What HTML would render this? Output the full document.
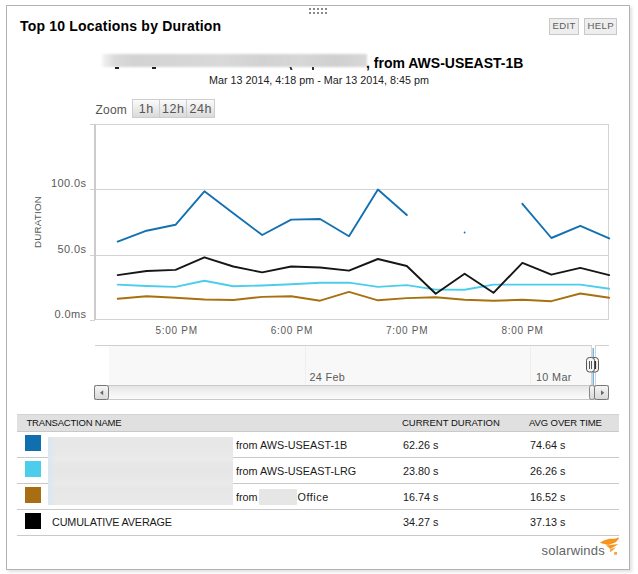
<!DOCTYPE html>
<html><head><meta charset="utf-8">
<style>
html,body{margin:0;padding:0;background:#fff;width:638px;height:574px;overflow:hidden;position:relative;font-family:"Liberation Sans",sans-serif;}
.a{position:absolute;white-space:nowrap;line-height:1;}
#panel{position:absolute;left:6px;top:5px;width:622px;height:563px;border:1px solid #b3b3b3;box-shadow:2px 2px 3px rgba(0,0,0,0.12);background:#fff;}
.dot{position:absolute;width:2px;height:2px;background:#8a8a8a;}
.btn{position:absolute;top:18px;height:15px;border:1px solid #c8c8c8;background:#eeeeee;color:#5e5e5e;font-size:9.6px;line-height:13.2px;letter-spacing:0.35px;text-indent:0.35px;text-align:center;}
.zb{position:absolute;top:99px;height:17px;background:linear-gradient(#fbfbfb,#dadada);border:1px solid #cdcdcd;color:#555;font-size:12.5px;line-height:19px;letter-spacing:0.5px;text-indent:0.5px;text-align:center;}
.hdr{font-size:9.5px;color:#111;}
.cell{font-size:10.8px;color:#1a1a1a;}
.sw{position:absolute;left:25px;width:16px;height:16px;}
.sep{position:absolute;left:17px;width:602px;height:1px;background:#c9c9c9;}
</style></head><body>
<div id="panel"></div>
<!-- drag dots -->
<div class="dot" style="left:309px;top:8px"></div><div class="dot" style="left:313px;top:8px"></div><div class="dot" style="left:317px;top:8px"></div><div class="dot" style="left:321px;top:8px"></div><div class="dot" style="left:325px;top:8px"></div>
<div class="dot" style="left:309px;top:12px"></div><div class="dot" style="left:313px;top:12px"></div><div class="dot" style="left:317px;top:12px"></div><div class="dot" style="left:321px;top:12px"></div><div class="dot" style="left:325px;top:12px"></div>

<div class="a" style="left:20px;top:19px;font-size:14px;font-weight:bold;color:#000;letter-spacing:0.2px">Top 10 Locations by Duration</div>
<div class="btn" style="left:549px;width:28px">EDIT</div>
<div class="btn" style="left:584px;width:31px">HELP</div>

<!-- chart title blurred -->
<div style="position:absolute;left:102px;top:54px;width:265px;height:13px;background:linear-gradient(90deg,#f4f4f4,#dadada 5%,#d3d3d3 12%,#d6d6d6 30%,#d9d9d9 45%,#d2d2d2 60%,#d7d7d7 75%,#cfcfcf 88%,#d8d8d8 100%);filter:blur(1px)"></div>
<div style="position:absolute;left:115px;top:67px;width:4px;height:2px;background:#222"></div><div style="position:absolute;left:152px;top:67px;width:4px;height:2px;background:#222"></div><div style="position:absolute;left:290px;top:67px;width:2px;height:3px;background:#333;transform:skewX(20deg)"></div><div style="position:absolute;left:312px;top:67px;width:2px;height:3px;background:#333"></div>
<div class="a" style="left:366px;top:56px;font-size:14px;font-weight:bold;color:#000">, from AWS-USEAST-1B</div>
<div class="a" style="left:209px;top:75px;font-size:10.75px;color:#222">Mar 13 2014, 4:18 pm - Mar 13 2014, 8:45 pm</div>

<!-- zoom -->
<div class="a" style="left:95.5px;top:104px;font-size:12px;color:#555;letter-spacing:0.2px">Zoom</div>
<div class="zb" style="left:132px;width:26px">1h</div>
<div class="zb" style="left:159px;width:26px">12h</div>
<div class="zb" style="left:186px;width:27px">24h</div>

<svg style="position:absolute;left:0;top:0" width="638" height="574">
<g shape-rendering="crispEdges">
<rect x="90" y="124" width="519" height="1" fill="#d3d3d3"/>
<rect x="608" y="124" width="1" height="196" fill="#d3d3d3"/>
<rect x="90" y="189" width="519" height="1" fill="#d3d3d3"/>
<rect x="90" y="255" width="519" height="1" fill="#d3d3d3"/>
<rect x="95" y="319" width="514" height="1" fill="#d3d3d3"/>
<rect x="90" y="320" width="5" height="1" fill="#d3d3d3"/>
<rect x="94" y="124" width="2" height="196" fill="#cccccc"/>
</g>
<path d="M117.7 241.6 L146.6 230.7 L175.5 224.8 L204.4 191.3 L233.3 213.3 L262.2 235.0 L291.2 219.6 L320.1 219.0 L349.0 236.2 L377.9 189.5 L406.8 215.0 M522.4 203.8 L551.4 238.0 L580.3 225.8 L609.2 238.4" fill="none" stroke="#1471b1" stroke-width="1.9" stroke-linejoin="round" stroke-linecap="round"/>
<circle cx="464.6" cy="232.5" r="0.9" fill="#1471b1"/>
<path d="M117.7 298.7 L146.6 296.2 L175.5 297.8 L204.4 299.5 L233.3 300.0 L262.2 296.9 L291.2 296.2 L320.1 300.7 L349.0 291.9 L377.9 300.3 L406.8 298.1 L435.7 297.2 L464.6 299.7 L493.5 300.7 L522.4 299.8 L551.4 301.2 L580.3 293.5 L609.2 297.8" fill="none" stroke="#a8700f" stroke-width="1.9" stroke-linejoin="round" stroke-linecap="round"/>
<path d="M117.7 284.6 L146.6 286.0 L175.5 286.9 L204.4 280.8 L233.3 286.2 L262.2 285.5 L291.2 284.2 L320.1 282.8 L349.0 282.6 L377.9 286.9 L406.8 285.1 L435.7 289.6 L464.6 289.8 L493.5 284.6 L522.4 284.6 L551.4 284.6 L580.3 284.6 L609.2 288.7" fill="none" stroke="#4ccdec" stroke-width="1.9" stroke-linejoin="round" stroke-linecap="round"/>
<path d="M117.7 275.1 L146.6 271.0 L175.5 269.9 L204.4 257.3 L233.3 266.5 L262.2 272.4 L291.2 266.5 L320.1 267.5 L349.0 270.6 L377.9 259.0 L406.8 266.0 L435.7 293.7 L464.6 273.8 L493.5 292.8 L522.4 262.9 L551.4 274.7 L580.3 267.9 L609.2 275.1" fill="none" stroke="#161616" stroke-width="1.9" stroke-linejoin="round" stroke-linecap="round"/>
<text x="86.5" y="187" text-anchor="end" font-family="Liberation Sans" font-size="11" fill="#5a5a5a" letter-spacing="0.4">100.0s</text>
<text x="86.5" y="253" text-anchor="end" font-family="Liberation Sans" font-size="11" fill="#5a5a5a" letter-spacing="0.4">50.0s</text>
<text x="86.5" y="318" text-anchor="end" font-family="Liberation Sans" font-size="11" fill="#5a5a5a" letter-spacing="0.4">0.0ms</text>
<text x="176.6" y="333.6" font-family="Liberation Sans" font-size="10" fill="#5a5a5a" letter-spacing="0.7" text-anchor="middle">5:00 PM</text>
<text x="291.9" y="333.6" font-family="Liberation Sans" font-size="10" fill="#5a5a5a" letter-spacing="0.7" text-anchor="middle">6:00 PM</text>
<text x="407.2" y="333.6" font-family="Liberation Sans" font-size="10" fill="#5a5a5a" letter-spacing="0.7" text-anchor="middle">7:00 PM</text>
<text x="522.5" y="333.6" font-family="Liberation Sans" font-size="10" fill="#5a5a5a" letter-spacing="0.7" text-anchor="middle">8:00 PM</text>
<text transform="translate(40.5 222) rotate(-90)" text-anchor="middle" font-family="Liberation Sans" font-size="9.8" fill="#5a5a5a" letter-spacing="0.2">DURATION</text>
<g shape-rendering="crispEdges">
<rect x="109" y="346" width="482" height="39" fill="#f8f8f8"/>
<rect x="305" y="346" width="1" height="39" fill="#efefef"/>
<rect x="530" y="346" width="1" height="39" fill="#efefef"/>
<rect x="95" y="345" width="497" height="1" fill="#cfcfcf"/><rect x="595" y="345" width="14" height="1" fill="#cfcfcf"/><rect x="591" y="345" width="1" height="40" fill="#d4d4d4"/><rect x="595" y="345" width="1" height="40" fill="#d4d4d4"/>
</g>
<text x="309.5" y="381" font-family="Liberation Sans" font-size="10.8" fill="#5a5a5a" letter-spacing="0.35">24 Feb</text>
<text x="536" y="381" font-family="Liberation Sans" font-size="10.8" fill="#5a5a5a" letter-spacing="0.35">10 Mar</text>
<path d="M593.2 385 L593.2 348" stroke="#5a9fd6" stroke-width="1.2" fill="none"/>
<defs><linearGradient id="sg" x1="0" y1="0" x2="0" y2="1"><stop offset="0" stop-color="#e4e4e4"/><stop offset="0.5" stop-color="#f2f2f2"/><stop offset="1" stop-color="#fbfbfb"/></linearGradient>
<linearGradient id="bg" x1="0" y1="0" x2="0" y2="1"><stop offset="0" stop-color="#f6f6f6"/><stop offset="1" stop-color="#d8d8d8"/></linearGradient></defs>
<rect x="94.5" y="385.5" width="514" height="14" fill="url(#sg)" stroke="#c9c9c9" stroke-width="1"/>
<rect x="94.5" y="385.5" width="14" height="14" rx="2" fill="url(#bg)" stroke="#777" stroke-width="1"/>
<path d="M100 392.8 L103.2 390.3 L103.2 395.3 Z" fill="#666"/>
<rect x="589.5" y="385.5" width="5" height="14" rx="2" fill="url(#bg)" stroke="#888" stroke-width="1"/>
<rect x="594.5" y="385.5" width="14" height="14" rx="2" fill="url(#bg)" stroke="#777" stroke-width="1"/>
<path d="M604.2 392.8 L601 390.3 L601 395.3 Z" fill="#666"/>
<rect x="590.5" y="357.5" width="8" height="14.5" rx="3" fill="#f4f4f4" stroke="#555" stroke-width="1"/>
<path d="M595.5 361 V369" stroke="#333" stroke-width="1.2"/>
<rect x="586.5" y="357.5" width="8" height="14.5" rx="3" fill="#f4f4f4" stroke="#555" stroke-width="1"/>
<path d="M589.5 361 V369 M591.5 361 V369" stroke="#555" stroke-width="1"/>

</svg>

<!-- table -->
<div style="position:absolute;left:17px;top:414px;width:602px;height:16px;background:#e0e0e0;border-top:1px solid #d2d2d2;border-bottom:1px solid #c9c9c9"></div>
<div class="a hdr" style="left:26.5px;top:418px;letter-spacing:-0.2px">TRANSACTION NAME</div>
<div class="a hdr" style="left:402px;top:418px">CURRENT DURATION</div>
<div class="a hdr" style="left:529px;top:418px;letter-spacing:-0.1px">AVG OVER TIME</div>
<div class="sep" style="top:457px"></div>
<div class="sep" style="top:483px"></div>
<div class="sep" style="top:509px"></div>
<div class="sep" style="top:535px"></div>
<div class="sw" style="top:435px;background:#106fae"></div>
<div class="sw" style="top:461px;background:#4ccdec"></div>
<div class="sw" style="top:487px;background:#a86f12"></div>
<div class="sw" style="top:513px;background:#000"></div>

<div style="position:absolute;left:48px;top:437px;width:185px;height:68px;background:linear-gradient(180deg,#e7e7e7 0,#e8e8e8 25%,#ebebeb 31%,#e7e7e7 40%,#e6e6e6 55%,#eaeaea 68%,#e7e7e7 76%,#e9e9e9 100%)"></div><div style="position:absolute;left:48px;top:437px;width:8px;height:68px;background:linear-gradient(90deg,rgba(215,232,242,0.9),rgba(230,230,230,0))"></div>
<div style="position:absolute;left:259px;top:489px;width:38px;height:16px;background:#e6e6e6;border-radius:1px"></div>

<div class="a cell" style="left:236px;top:440px">from AWS-USEAST-1B</div>
<div class="a cell" style="left:236px;top:466px">from AWS-USEAST-LRG</div>
<div class="a cell" style="left:236px;top:492px">from</div>
<div class="a cell" style="left:297.5px;top:492px;letter-spacing:0.55px">Office</div>
<div class="a cell" style="left:52px;top:517px;letter-spacing:-0.15px">CUMULATIVE AVERAGE</div>

<div class="a cell" style="left:403px;top:440px">62.26 s</div>
<div class="a cell" style="left:530px;top:440px">74.64 s</div>
<div class="a cell" style="left:403px;top:466px">23.80 s</div>
<div class="a cell" style="left:530px;top:466px">26.26 s</div>
<div class="a cell" style="left:403px;top:492px">16.74 s</div>
<div class="a cell" style="left:530px;top:492px">16.52 s</div>
<div class="a cell" style="left:403px;top:517px">34.27 s</div>
<div class="a cell" style="left:530px;top:517px">37.13 s</div>

<!-- logo -->
<div class="a" style="left:541.5px;top:544px;font-size:13px;color:#646464;letter-spacing:0.2px">solarwinds</div>
<svg style="position:absolute;left:0;top:0" width="638" height="574"><g fill="#f7941e"><path d="M599.8 542.8 C602 541.2 605 539.6 608.4 538.9 C611 538.4 613.5 539.2 615.5 538.6 C617 538.2 618.2 537.6 619.2 537.6 C618.3 539.6 617 541.4 615.2 542.6 C613 543.5 610.6 544.2 608.2 545 C605.5 544.4 602.6 543.5 599.8 542.8Z"/><path d="M605.8 545.6 C609.5 545 613.5 544.4 618.4 543.9 C616 545.6 613.2 547.2 610.2 548.9 C608.8 547.8 607.3 546.6 605.8 545.6Z"/><path d="M610.3 549.2 C612 548.4 614 547.7 616 547.2 C614.3 549 612.3 550.7 610 552.2 C610.2 551.2 610.3 550.2 610.3 549.2Z"/><rect x="614.2" y="552" width="2.8" height="2.8" fill="#f9a447"/></g></svg>
</body></html>
